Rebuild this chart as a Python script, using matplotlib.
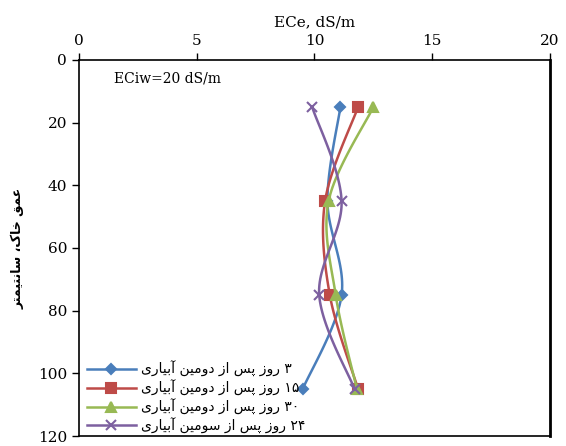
import numpy as np
import matplotlib
matplotlib.use('Agg')
import matplotlib.pyplot as plt
from matplotlib.lines import Line2D

# depth (cm) and ECe (dS/m)
depth = [15, 45, 75, 105]
ece_3 = [11.1, 10.55, 11.15, 9.5]
ece_15 = [11.85, 10.45, 10.65, 11.85]
ece_30 = [12.5, 10.6, 10.9, 11.8]
ece_24 = [9.9, 11.15, 10.2, 11.7]

labels = ['۳ روز پس از دومین آبیاری',
          '۱۵ روز پس از دومین آبیاری',
          '۳۰ روز پس از دومین آبیاری',
          '۲۴ روز پس از سومین آبیاری']
colors = ['#4A7EBB', '#BE4B48', '#98B954', '#7D60A0']
markers = ['D', 's', '^', 'x']
msizes = [5, 7, 7, 7]

"""
Tiny Persian shaper: matplotlib does no Arabic shaping / bidi,
so convert to presentation forms and reverse to visual order.
"""
# iso, fin, ini, med
forms = {
    'ا': ('\uFE8D', '\uFE8E', None, None),
    'آ': ('\uFE81', '\uFE82', None, None),
    'د': ('\uFEA9', '\uFEAA', None, None),
    'ر': ('\uFEAD', '\uFEAE', None, None),
    'ز': ('\uFEAF', '\uFEB0', None, None),
    'و': ('\uFEED', '\uFEEE', None, None),
    'ب': ('\uFE8F', '\uFE90', '\uFE91', '\uFE92'),
    'ت': ('\uFE95', '\uFE96', '\uFE97', '\uFE98'),
    'خ': ('\uFEA5', '\uFEA6', '\uFEA7', '\uFEA8'),
    'س': ('\uFEB1', '\uFEB2', '\uFEB3', '\uFEB4'),
    'ع': ('\uFEC9', '\uFECA', '\uFECB', '\uFECC'),
    'ق': ('\uFED5', '\uFED6', '\uFED7', '\uFED8'),
    'م': ('\uFEE1', '\uFEE2', '\uFEE3', '\uFEE4'),
    'ن': ('\uFEE5', '\uFEE6', '\uFEE7', '\uFEE8'),
    'پ': ('\uFB56', '\uFB57', '\uFB58', '\uFB59'),
    'ی': ('\uFBFC', '\uFBFD', '\uFBFE', '\uFBFF'),
    'ک': ('\uFB8E', '\uFB8F', '\uFB90', '\uFB91'),
}


def shape(s):
    out = []
    for i, c in enumerate(s):
        if c not in forms:
            out.append(c)
            continue
        prev = s[i - 1] if i > 0 else ''
        nxt = s[i + 1] if i < len(s) - 1 else ''
        join_prev = prev in forms and forms[prev][2] is not None
        join_next = nxt in forms and forms[c][2] is not None
        f = forms[c]
        if join_prev and join_next:
            out.append(f[3])
        elif join_prev:
            out.append(f[1])
        elif join_next:
            out.append(f[2])
        else:
            out.append(f[0])
    # visual order: reverse, but keep digit runs left-to-right
    runs = []
    for c in out:
        if c.isdigit() and runs and runs[-1][0].isdigit():
            runs[-1] += c
        else:
            runs.append(c)
    return ''.join(runs[::-1])


def smooth(xs, ys, n=30):
    # Catmull-Rom through the points, like Excel's smoothed line
    p = np.column_stack([xs, ys]).astype(float)
    p = np.vstack([p[0], p, p[-1]])
    pts = []
    for k in range(1, len(p) - 2):
        p0, p1, p2, p3 = p[k - 1], p[k], p[k + 1], p[k + 2]
        t = np.linspace(0, 1, n)[:, None]
        c = 0.5 * ((2 * p1) + (-p0 + p2) * t + (2 * p0 - 5 * p1 + 4 * p2 - p3) * t ** 2
                   + (-p0 + 3 * p1 - 3 * p2 + p3) * t ** 3)
        pts.append(c)
    pts = np.vstack(pts)
    return pts[:, 0], pts[:, 1]


serif = 'DejaVu Serif'
fig = plt.figure(figsize=(5.66, 4.46), dpi=100)
ax = fig.add_axes([0.1396, 0.0224, 0.8321, 0.8431])

series = [ece_3, ece_15, ece_30, ece_24]
handles = []
for vals, col, mk, ms in zip(series, colors, markers, msizes):
    sx, sy = smooth(vals, depth)
    ax.plot(sx, sy, color=col, lw=1.8)
    ax.plot(vals, depth, ls='none', marker=mk, color=col, ms=ms, mew=1.5)
    handles.append(Line2D([], [], color=col, lw=1.8, marker=mk, ms=ms, mew=1.5))

ax.set_xlim(0, 20)
ax.set_ylim(120, 0)
ax.set_xticks([0, 5, 10, 15, 20])
ax.set_yticks(np.arange(0, 121, 20))
ax.xaxis.tick_top()
ax.xaxis.set_label_position('top')
ax.tick_params(axis='both', labelsize=11, length=5, width=1, direction='out')
for lab in ax.get_xticklabels() + ax.get_yticklabels():
    lab.set_fontfamily(serif)
ax.set_xlabel('ECe, dS/m', fontsize=11, fontfamily=serif, labelpad=6)
ax.set_ylabel(shape('عمق خاک، سانتیمتر'), fontsize=9, fontweight='bold',
              fontfamily='DejaVu Sans', labelpad=10)
for side in ['top', 'left', 'bottom']:
    ax.spines[side].set_linewidth(1.2)
ax.spines['right'].set_linewidth(2)

ax.text(1.5, 6, 'ECiw=20 dS/m', fontsize=10, fontfamily=serif, va='center')

ax.legend(handles, [shape(l) for l in labels], loc='upper left',
          bbox_to_anchor=(0.005, 0.215), frameon=False, borderaxespad=0,
          handlelength=3.5, handletextpad=0.4, labelspacing=0.2,
          prop={'family': 'DejaVu Sans', 'size': 10})

fig.savefig('out.png', dpi=100)
